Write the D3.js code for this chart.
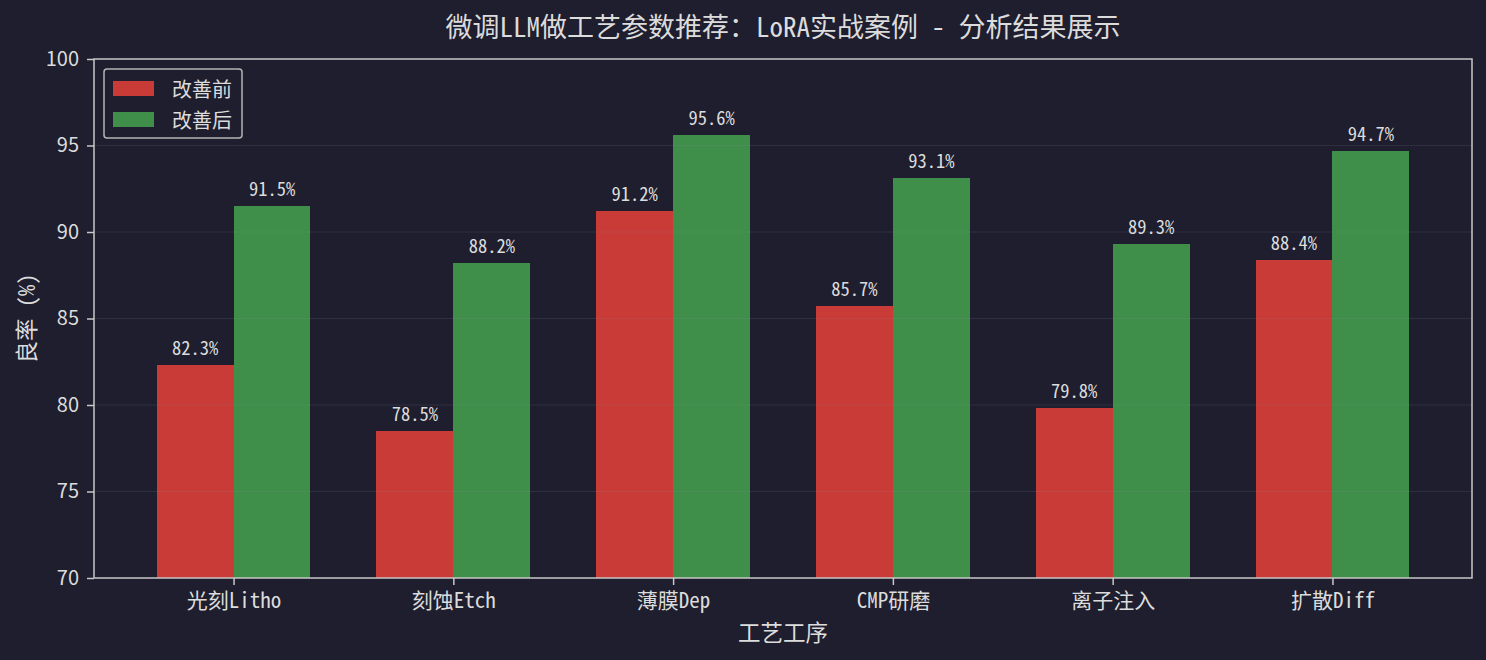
<!DOCTYPE html>
<html>
<head>
<meta charset="utf-8">
<script src="https://cdn.jsdelivr.net/npm/d3@7"></script>
<style>
  html, body { margin: 0; padding: 0; background: #1e1e2e; }
  #chart { width: 1486px; height: 660px; }
  text { fill: #dcdcdc; }
</style>
</head>
<body>
<div id="chart"></div>
<script>
const categories = ["光刻Litho", "刻蚀Etch", "薄膜Dep", "CMP研磨", "离子注入", "扩散Diff"];
const before = [82.3, 78.5, 91.2, 85.7, 79.8, 88.4];
const after = [91.5, 88.2, 95.6, 93.1, 89.3, 94.7];
const yTicks = [70, 75, 80, 85, 90, 95, 100];
const seriesNames = ["改善前", "改善后"];
const colors = ["#c83b36", "#3f8f4a"];

const MONO = "'Noto Sans Mono CJK SC', 'Noto Sans CJK SC', monospace";
const SANS = "'Noto Sans CJK SC', 'DejaVu Sans', sans-serif";

class BarChart {
  constructor(id) {
    this.div = id;
  }

  draw() {
    const div = d3.select(`#${this.div}`);
    div.selectAll("*").remove();
    this.width = 1486;
    this.height = 660;
    this.margin = { left: 94, right: 14, top: 59, bottom: 82 };
    this.innerW = this.width - this.margin.left - this.margin.right;
    this.innerH = this.height - this.margin.top - this.margin.bottom;

    this.svg = div.append("svg")
      .attr("width", this.width)
      .attr("height", this.height);
    this.svg.append("rect")
      .attr("width", this.width).attr("height", this.height)
      .attr("fill", "#1e1e2e");

    this.ChartArea = this.svg.append("g")
      .attr("transform", `translate(${this.margin.left},${this.margin.top})`);

    // matplotlib-like limits: bars of width 0.35 around integer positions, 5% margin
    const barW = 0.35;
    const lo = -barW, hi = categories.length - 1 + barW;
    const pad = (hi - lo) * 0.05;
    this.x = d3.scaleLinear().domain([lo - pad, hi + pad]).range([0, this.innerW]);
    this.y = d3.scaleLinear().domain([70, 100]).range([this.innerH, 0]);

    const x = this.x, y = this.y;

    // bars
    const series = [before, after];
    series.forEach((vals, si) => {
      const off = si === 0 ? -barW : 0;
      this.ChartArea.append("g").selectAll("rect")
        .data(vals)
        .join("rect")
        .attr("x", (d, i) => x(i + off))
        .attr("width", x(barW) - x(0))
        .attr("y", d => y(d))
        .attr("height", d => y(70) - y(d))
        .attr("fill", colors[si])
        .attr("shape-rendering", "crispEdges");

      this.ChartArea.append("g").selectAll("text")
        .data(vals)
        .join("text")
        .attr("x", (d, i) => x(i + off + barW / 2))
        .attr("y", d => y(d) - 10)
        .attr("text-anchor", "middle")
        .style("font-family", MONO)
        .style("font-size", "18.5px")
        .text(d => d.toFixed(1) + "%");
    });

    // grid on top, faint
    this.ChartArea.append("g").selectAll("line")
      .data(yTicks.slice(1, -1))
      .join("line")
      .attr("x1", 0).attr("x2", this.innerW)
      .attr("y1", d => y(d)).attr("y2", d => y(d))
      .attr("stroke", "#8a8a9a")
      .attr("stroke-opacity", 0.17)
      .attr("stroke-width", 1.2);

    // axes
    const yAxis = this.ChartArea.append("g")
      .call(d3.axisLeft(y).tickValues(yTicks).tickSize(7).tickPadding(8));
    yAxis.select(".domain").remove();
    yAxis.selectAll("line").attr("stroke", "#c8c8c8").attr("stroke-width", 1.5);
    yAxis.selectAll("text")
      .style("font-family", SANS).style("font-size", "20px").attr("fill", "#dcdcdc");

    const xAxis = this.ChartArea.append("g")
      .attr("transform", `translate(0,${this.innerH})`)
      .call(d3.axisBottom(x).tickValues(d3.range(categories.length))
        .tickFormat(i => categories[i]).tickSize(7).tickPadding(8));
    xAxis.select(".domain").remove();
    xAxis.selectAll("line").attr("stroke", "#c8c8c8").attr("stroke-width", 1.5);
    xAxis.selectAll("text")
      .style("font-family", MONO).style("font-size", "21px").attr("fill", "#dcdcdc");

    // frame
    this.ChartArea.append("rect")
      .attr("width", this.innerW).attr("height", this.innerH)
      .attr("fill", "none").attr("stroke", "#c8c8c8").attr("stroke-width", 1.5);

    // titles
    this.add_label({ text: "微调LLM做工艺参数推荐：LoRA实战案例 - 分析结果展示",
      x: this.margin.left + this.innerW / 2, y: 37, size: 27, font: MONO });
    this.add_label({ text: "工艺工序",
      x: this.margin.left + this.innerW / 2, y: 641, size: 22.5, font: MONO });
    this.svg.append("text")
      .attr("transform", `translate(35,${this.margin.top + this.innerH / 2}) rotate(-90)`)
      .attr("text-anchor", "middle")
      .style("font-family", MONO).style("font-size", "22.5px")
      .text("良率 (%)");

    this.add_legend();
  }

  add_label({ text, x, y, size, font }) {
    this.svg.append("text")
      .attr("x", x).attr("y", y)
      .attr("text-anchor", "middle")
      .style("font-family", font)
      .style("font-size", size + "px")
      .text(text);
  }

  add_legend() {
    const lg = this.svg.append("g").attr("transform", "translate(104,69)");
    lg.append("rect")
      .attr("width", 138).attr("height", 69).attr("rx", 3)
      .attr("fill", "#1e1e2e").attr("fill-opacity", 0.8)
      .attr("stroke", "#b4b4b4").attr("stroke-width", 1.5);
    seriesNames.forEach((name, i) => {
      lg.append("rect")
        .attr("x", 9).attr("y", 12 + i * 31)
        .attr("width", 41).attr("height", 15)
        .attr("fill", colors[i]);
      lg.append("text")
        .attr("x", 68).attr("y", 19.5 + i * 31)
        .attr("dominant-baseline", "central")
        .style("font-family", MONO).style("font-size", "20px")
        .text(name);
    });
  }
}

new BarChart("chart").draw();
</script>
</body>
</html>
